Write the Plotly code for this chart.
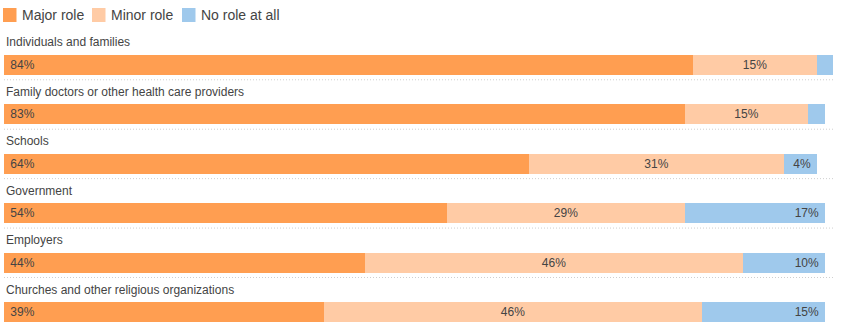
import plotly.graph_objects as go

categories = [
    "Individuals and families",
    "Family doctors or other health care providers",
    "Schools",
    "Government",
    "Employers",
    "Churches and other religious organizations",
]
major_role = [84, 83, 64, 54, 44, 39]
minor_role = [15, 15, 31, 29, 46, 46]
no_role = [2, 2, 4, 17, 10, 15]
series_names = ["Major role", "Minor role", "No role at all"]
series_colors = ["#ff9e51", "#ffcba5", "#9fc9ec"]

TEXT = "#444444"
FONT = "Liberation Sans, Arial, Helvetica, sans-serif"

W, H = 852, 325
ML, MR, MT, MB = 4, 19, 16, 3
PW, PH = W - ML - MR, H - MT - MB


def px_x(px):
    return (px - ML) / PW


def px_y(py):
    return (H - MB - py) / PH


def labels(vals, pad_left="", pad_right=""):
    return [f"{pad_left}{v}%{pad_right}" if v >= 3 else "" for v in vals]


fig = go.Figure()
specs = [
    (major_role, "start", labels(major_role, pad_left=" ")),
    (minor_role, "middle", labels(minor_role)),
    (no_role, "end", labels(no_role, pad_right=" ")),
]
for (vals, anchor, txt), name, color in zip(specs, series_names, series_colors):
    fig.add_trace(go.Bar(
        y=categories, x=vals, orientation="h", name=name,
        marker=dict(color=color, line=dict(width=0)),
        text=txt, textposition="inside", insidetextanchor=anchor,
        textfont=dict(size=12, color=TEXT, family=FONT),
        constraintext="none", textangle=0,
        width=0.405, hoverinfo="skip", showlegend=False,
    ))

# legend (swatch + name)
legend_x = [3, 92, 182]
for lx, name, color in zip(legend_x, series_names, series_colors):
    fig.add_shape(type="rect", xref="paper", yref="paper",
                  x0=px_x(lx), x1=px_x(lx + 13.5), y0=px_y(22), y1=px_y(8),
                  fillcolor=color, line=dict(width=0), layer="above")
    fig.add_annotation(x=px_x(lx + 16.5), xref="paper", y=px_y(15), yref="paper",
                       text=name, showarrow=False, xanchor="left", yanchor="middle",
                       font=dict(size=14, color=TEXT, family=FONT))

# category labels above bars
for c in categories:
    fig.add_annotation(x=0, xref="paper", y=c, yref="y", yshift=22.5,
                       text=c, showarrow=False, xanchor="left", yanchor="middle",
                       font=dict(size=12, color=TEXT, family=FONT))

# dotted separators
for i in range(len(categories) - 1):
    fig.add_shape(type="line", xref="paper", x0=0, x1=1, yref="y",
                  y0=i + 0.30, y1=i + 0.30,
                  line=dict(color="#cfcfcf", width=1, dash="1px,2px"))

fig.update_layout(
    barmode="stack",
    width=W, height=H,
    margin=dict(l=ML, r=MR, t=MT, b=MB, autoexpand=False),
    paper_bgcolor="white", plot_bgcolor="white",
    font=dict(family=FONT, color=TEXT),
    bargap=0,
    showlegend=False,
    xaxis=dict(range=[0, 101], showgrid=False, zeroline=False,
               showticklabels=False, fixedrange=True),
    yaxis=dict(range=[5.2, -0.99], showgrid=False, zeroline=False,
               showticklabels=False, type="category",
               categoryorder="array", categoryarray=categories, fixedrange=True),
)

fig.write_html("out.html", config={"displayModeBar": False})
